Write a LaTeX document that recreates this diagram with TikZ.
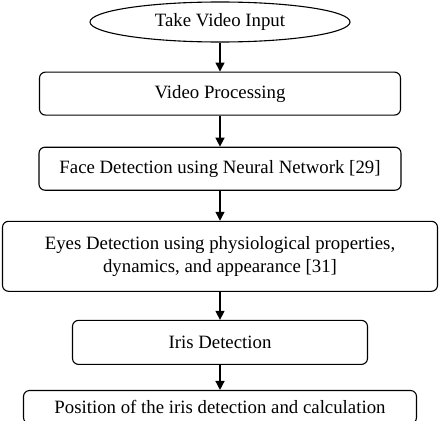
\documentclass[tikz,border=0pt]{standalone}
\usepackage{fontspec}
\setmainfont{Liberation Serif}
\usetikzlibrary{positioning,shapes.geometric,arrows.meta}

\begin{document}
\begin{tikzpicture}[
    x=1pt, y=1pt,
    node distance=29pt,
    box/.style={rectangle, draw, line width=1.1pt, rounded corners=6pt,
                align=center, minimum height=43pt, inner sep=2pt,
                font=\fontsize{18.8}{23}\selectfont},
    startnode/.style={ellipse, draw, line width=1.1pt, minimum width=260pt,
                minimum height=40pt, inner sep=0pt,
                font=\fontsize{18.8}{23}\selectfont},
    arrow/.style={-{Triangle[length=9pt,width=9pt]}, line width=1.4pt}
]
\useasboundingbox (0,0) rectangle (443,-420);

\node (input) [startnode] at (220,-22) {Take Video Input};
\node (proc) [box, minimum width=361pt, below=29pt of input] {Video Processing};
\node (face) [box, minimum width=362pt, below=31pt of proc] {Face Detection using Neural Network [29]};
\node (eyes) [box, minimum width=435pt, minimum height=70pt, below=30pt of face]
    {Eyes Detection using physiological properties,\\ dynamics, and appearance [31]};
\node (iris) [box, minimum width=295pt, minimum height=44pt, below=28pt of eyes] {Iris Detection};
\node (pos) [box, minimum width=393pt, minimum height=33pt, below=25pt of iris]
    {Position of the iris detection and calculation};

\draw [arrow] (input) -- (proc);
\draw [arrow] (proc) -- (face);
\draw [arrow] (face) -- (eyes);
\draw [arrow] (eyes) -- (iris);
\draw [arrow] (iris) -- (pos);

\end{tikzpicture}
\end{document}
